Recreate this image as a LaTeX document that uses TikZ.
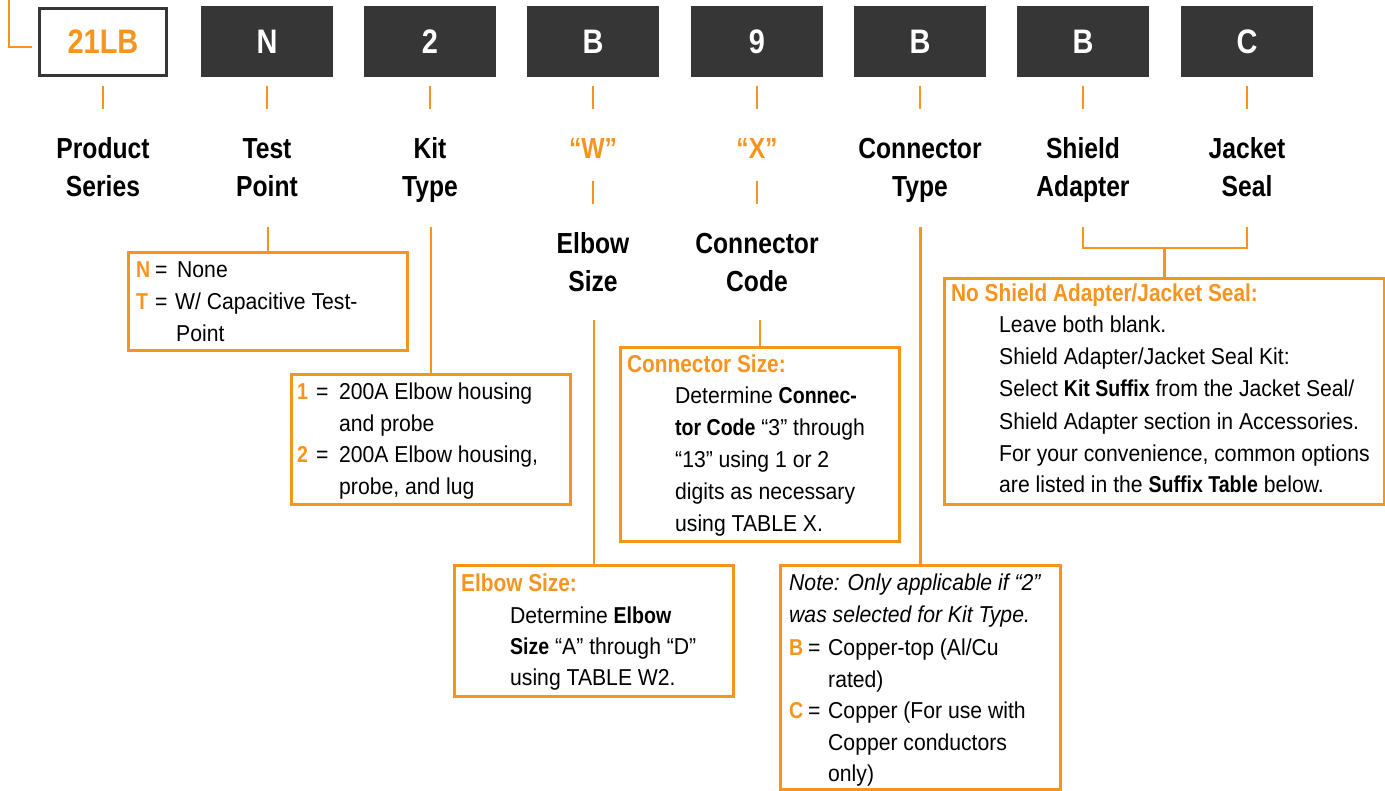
\documentclass[tikz,border=0pt]{standalone}
\usepackage{fontspec}
\setmainfont{Liberation Sans}[FakeStretch=0.92]
\newfontfamily\condf{Liberation Sans}[FakeStretch=0.85]
\definecolor{orng}{HTML}{F7941D}
\definecolor{dgray}{HTML}{363636}
\newcommand\ttlf{\condf\bfseries\fontsize{29}{37}\selectfont}
\newcommand\bdyf{\fontsize{23}{32}\selectfont}
\newcommand\hdf{\condf\bfseries\fontsize{24.5}{32}\selectfont}
\newcommand\bigf{\condf\bfseries\fontsize{34}{40}\selectfont}
\newcommand\kb[1]{{\condf\bfseries #1}}
\begin{document}
\begin{tikzpicture}[x=1pt,y=-1pt,
  lbl/.style={font=\ttlf, text=black, inner sep=0, anchor=base},
  olbl/.style={lbl, text=orng},
  txt/.style={font=\bdyf, text=black, inner sep=0, anchor=base west},
  itxt/.style={txt, font=\bdyf\itshape},
  hd/.style={font=\hdf, text=orng, inner sep=0, anchor=base west},
  keyl/.style={font=\bdyf\condf\bfseries, text=orng, inner sep=0, anchor=base west},
  obox/.style={draw=orng, line width=3pt, inner sep=0, anchor=north west},
  conn/.style={draw=orng, line width=2.2pt},
  dbox/.style={fill=dgray, minimum width=132, minimum height=71, inner sep=0, font=\bigf, text=white},
  wbox/.style={fill=white, draw=dgray, line width=3pt, minimum width=127, minimum height=67, inner sep=0, font=\bigf, text=orng}]
\useasboundingbox (0,0) rectangle (1385,791);

% top code boxes
\node[wbox] (b1) at (103,42) {21LB};
\node[dbox] (b2) at (267,42) {N};
\node[dbox] (b3) at (430,42) {2};
\node[dbox] (b4) at (593,42) {B};
\node[dbox] (b5) at (757,42) {9};
\node[dbox] (b6) at (920,42) {B};
\node[dbox] (b7) at (1083,42) {B};
\node[dbox] (b8) at (1247,42) {C};

% left corner line
\coordinate (lc0) at (9,0);
\coordinate (lc1) at (32,47);
\draw[conn] (lc0) |- (lc1);

% ticks under boxes
\foreach \b in {b1,b2,b3,b4,b5,b6,b7,b8}
  \draw[conn] (\b.south |- 0,86) -- (\b.south |- 0,109);

% labels
\node[lbl] (l1a) at (103,159) {Product};
\node[lbl] (l1b) at (103,197) {Series};
\node[lbl] (l2a) at (267,159) {Test};
\node[lbl] (l2b) at (267,197) {Point};
\node[lbl] (l3a) at (430,159) {Kit};
\node[lbl] (l3b) at (430,197) {Type};
\node[olbl] (l4a) at (593,159) {“W”};
\node[lbl] (l4b) at (593,254) {Elbow};
\node[lbl] (l4c) at (593,292) {Size};
\node[olbl] (l5a) at (757,159) {“X”};
\node[lbl] (l5b) at (757,254) {Connector};
\node[lbl] (l5c) at (757,292) {Code};
\node[lbl] (l6a) at (920,159) {Connector};
\node[lbl] (l6b) at (920,197) {Type};
\node[lbl] (l7a) at (1083,159) {Shield};
\node[lbl] (l7b) at (1083,197) {Adapter};
\node[lbl] (l8a) at (1247,159) {Jacket};
\node[lbl] (l8b) at (1247,197) {Seal};

% ticks under W and X
\draw[conn] (l4a.base |- 0,181) -- (l4a.base |- 0,204);
\draw[conn] (l5a.base |- 0,181) -- (l5a.base |- 0,204);

% option boxes
\node[obox, minimum width=279, minimum height=98] (tpbox) at (127,251) {};
\node[obox, minimum width=279, minimum height=130] (ktbox) at (290,373) {};
\node[obox, minimum width=279, minimum height=131] (elbox) at (453,564) {};
\node[obox, minimum width=279, minimum height=194] (csbox) at (619,346) {};
\node[obox, minimum width=280, minimum height=224] (ctbox) at (779,564) {};
\node[obox, minimum width=440, minimum height=226] (shbox) at (943,277) {};

% connectors to boxes
\draw[conn] (tpbox.north |- 0,227) -- (tpbox.north);
\draw[conn] (ktbox.north |- 0,227) -- (ktbox.north);
\draw[conn] (elbox.north |- 0,320) -- (elbox.north);
\draw[conn] (csbox.north |- 0,320) -- (csbox.north);
\draw[conn] (ctbox.north |- 0,227) -- (ctbox.north);
\draw[conn] (l7b.base |- 0,227) -- (l7b.base |- 0,248) -- (l8b.base |- 0,248) -- (l8b.base |- 0,227);
\draw[conn] (shbox.north |- 0,248) -- (shbox.north);

% Test point box text
\node[keyl] (tpk1) at (136,278) {N};
\node[txt] (tpe1) at (155,278) {=};
\node[txt] (tpt1) at (177,278) {None};
\node[keyl] (tpk2) at (136,310) {T};
\node[txt] (tpe2) at (155,310) {=};
\node[txt] (tpt2) at (175,310) {W/ Capacitive Test-};
\node[txt] (tpt3) at (176,342) {Point};

% Kit type box text
\node[keyl] (ktk1) at (297,400) {1};
\node[txt] (kte1) at (316,400) {=};
\node[txt] (ktt1) at (339,400) {200A Elbow housing};
\node[txt] (ktt2) at (339,432) {and probe};
\node[keyl] (ktk2) at (297,463) {2};
\node[txt] (kte2) at (316,463) {=};
\node[txt] (ktt3) at (339,463) {200A Elbow housing,};
\node[txt] (ktt4) at (339,495) {probe, and lug};

% Connector size box text
\node[hd] (csh) at (627,373) {Connector Size:};
\node[txt] (cst1) at (675,404) {Determine \kb{Connec-}};
\node[txt] (cst2) at (675,436) {\kb{tor Code} “3” through};
\node[txt] (cst3) at (675,468) {“13” using 1 or 2};
\node[txt] (cst4) at (675,500) {digits as necessary};
\node[txt] (cst5) at (675,532) {using TABLE X.};

% Elbow size box text
\node[hd] (elh) at (461,591) {Elbow Size:};
\node[txt] (elt1) at (510,623) {Determine \kb{Elbow}};
\node[txt] (elt2) at (510,654) {\kb{Size} “A” through “D”};
\node[txt] (elt3) at (510,685) {using TABLE W2.};

% Connector type box text
\node[itxt] (ctn1) at (789,590) {Note: Only applicable if “2”};
\node[itxt] (ctn2) at (789,622) {was selected for Kit Type.};
\node[keyl] (ctk1) at (789,655) {B};
\node[txt] (cte1) at (808,655) {=};
\node[txt] (ctt1) at (828,655) {Copper-top (Al/Cu};
\node[txt] (ctt2) at (828,687) {rated)};
\node[keyl] (ctk2) at (789,718) {C};
\node[txt] (cte2) at (808,718) {=};
\node[txt] (ctt3) at (828,718) {Copper (For use with};
\node[txt] (ctt4) at (828,750) {Copper conductors};
\node[txt] (ctt5) at (828,781) {only)};

% Shield / jacket box text
\node[hd] (shh) at (951,302) {No Shield Adapter/Jacket Seal:};
\node[txt] (sht1) at (999,333) {Leave both blank.};
\node[txt] (sht2) at (999,365) {Shield Adapter/Jacket Seal Kit:};
\node[txt] (sht3) at (999,397) {Select \kb{Kit Suffix} from the Jacket Seal/};
\node[txt] (sht4) at (999,430) {Shield Adapter section in Accessories.};
\node[txt] (sht5) at (999,462) {For your convenience, common options};
\node[txt] (sht6) at (999,493) {are listed in the \kb{Suffix Table} below.};
\end{tikzpicture}
\end{document}
